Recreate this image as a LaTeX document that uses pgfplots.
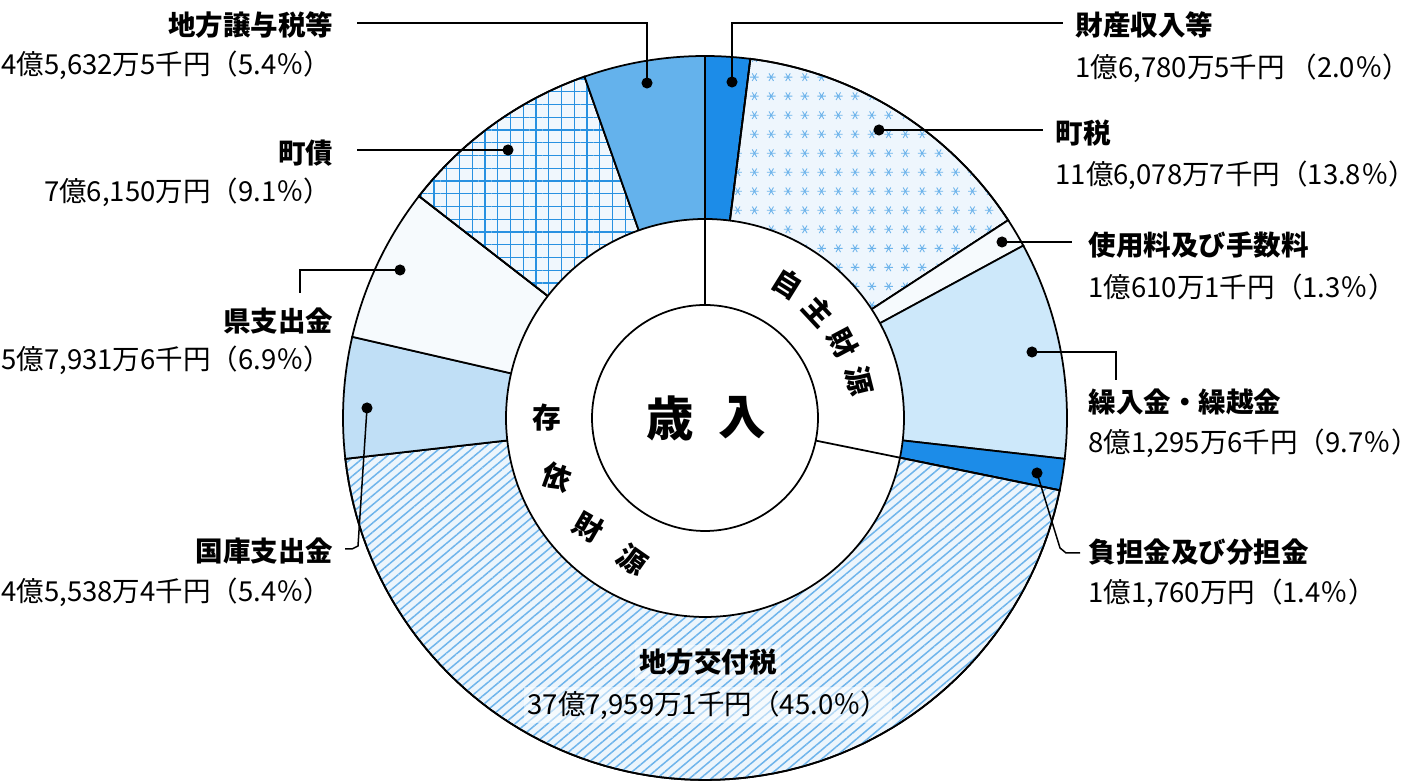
\documentclass[border=0pt]{standalone}
\usepackage{fontspec}
\setmainfont{Noto Sans CJK JP}
\usepackage{pgfplots}
\pgfplotsset{compat=1.18}
\usetikzlibrary{patterns.meta}

\definecolor{solidblue}{RGB}{28,140,232}
\definecolor{midblue}{RGB}{100,178,236}
\definecolor{paleblue}{RGB}{205,232,250}
\definecolor{kokko}{RGB}{192,223,246}
\definecolor{nearwhite}{RGB}{246,250,253}
\definecolor{dotbg}{RGB}{238,246,253}
\definecolor{dotfg}{RGB}{110,180,235}
\definecolor{gridbg}{RGB}{240,247,253}
\definecolor{gridfg}{RGB}{40,145,225}
\definecolor{hatchbg}{RGB}{236,245,252}
\definecolor{hatchfg}{RGB}{110,180,235}

\tikzdeclarepattern{
  name=asterisks,
  type=uncolored,
  bounding box={(-2pt,-2pt) and (2pt,2pt)},
  tile size={(6.7pt,7.6pt)},
  code={
    \draw[line width=0.35pt] (-1.7pt,0) -- (1.7pt,0)
      (-0.9pt,-1.5pt) -- (0.9pt,1.5pt)
      (-0.9pt,1.5pt) -- (0.9pt,-1.5pt);
  }
}

% slice: style, start share (%), share (%); centre (705,418), radius 362 px
\newcommand{\slice}[3]{%
  \addplot[draw=black, line width=0.7pt, #1,
    domain=90-3.6*(#2+#3):90-3.6*(#2), samples=90, variable=\t]
    ({705+362*cos(\t)}, {418-362*sin(\t)}) -- (axis cs:705,418) -- cycle;
}

\tikzset{
  lab/.style={font=\fontsize{11}{13}\selectfont, inner sep=0pt},
  big/.style={font=\fontsize{11.5}{13}\selectfont\bfseries, inner sep=0pt},
}

\begin{document}
\begin{tikzpicture}
\begin{axis}[
  hide axis,
  scale only axis,
  width=20cm, height=10.927cm,
  xmin=0, xmax=1424, ymin=0, ymax=778,
  y dir=reverse,
  clip=false,
]
  \addplot[draw=none] coordinates {(0,0) (1424,778)};

  % outer ring, clockwise from 12 o'clock
  \slice{fill=solidblue}{0}{2.0}          % 財産収入等
  \slice{fill=dotbg, postaction={pattern=asterisks, pattern color=dotfg}}{2.0}{13.8} % 町税
  \slice{fill=nearwhite}{15.8}{1.3}       % 使用料及び手数料
  \slice{fill=paleblue}{17.1}{9.7}        % 繰入金・繰越金
  \slice{fill=solidblue}{26.8}{1.4}       % 負担金及び分担金
  \slice{fill=hatchbg, postaction={pattern={Lines[angle=40,distance=2.8pt,line width=0.6pt]}, pattern color=hatchfg}}{28.2}{45.0} % 地方交付税
  \slice{fill=kokko}{73.2}{5.4}           % 国庫支出金
  \slice{fill=nearwhite}{78.6}{6.9}       % 県支出金
  \slice{fill=gridbg, postaction={pattern={Hatch[angle=0,distance=5.1pt,line width=0.5pt]}, pattern color=gridfg}}{85.5}{9.1} % 町債
  \slice{fill=midblue}{94.6}{5.4}         % 地方譲与税等

  % inner white rings
  \addplot[fill=white, draw=black, line width=0.7pt, domain=0:360, samples=181, variable=\t]
    ({705+199*cos(\t)}, {418-199*sin(\t)}) -- cycle;
  \addplot[draw=black, line width=0.7pt, domain=0:360, samples=181, variable=\t]
    ({705+113*cos(\t)}, {418-113*sin(\t)});
  \addplot[black, line width=0.7pt] coordinates {(705,305) (705,219)};
  \addplot[black, line width=0.7pt] coordinates {(815.7,440.6) (900.0,457.7)};

  % leader lines
  \addplot[black, line width=0.6pt] coordinates {(732,82) (732,23) (1063,23)};
  \addplot[black, line width=0.6pt] coordinates {(879,130) (1043,130)};
  \addplot[black, line width=0.6pt] coordinates {(1002,242) (1072,242)};
  \addplot[black, line width=0.6pt] coordinates {(1032,352) (1116,352) (1116,380)};
  \addplot[black, line width=0.6pt] coordinates {(1037,473) (1060,548) (1066,553) (1080,553)};
  \addplot[black, line width=0.6pt] coordinates {(647,83) (647,23) (357,23)};
  \addplot[black, line width=0.6pt] coordinates {(508,150) (357,150)};
  \addplot[black, line width=0.6pt] coordinates {(400,270) (300,270) (300,293)};
  \addplot[black, line width=0.6pt] coordinates {(367,408) (358,546) (352,549) (345,549)};
  \addplot[only marks, mark=*, mark size=2pt, black] coordinates {
    (732,82) (879,130) (1002,242) (1032,352) (1037,473)
    (647,83) (508,150) (400,270) (367,408)};

  % right labels
  \node[lab, anchor=west] at (axis cs:1075,25) {\bfseries 財産収入等};
  \node[lab, anchor=west] at (axis cs:1075,68) {1億6,780万5千円\,（2.0％）};
  \node[lab, anchor=west] at (axis cs:1055,133) {\bfseries 町税};
  \node[lab, anchor=west] at (axis cs:1055,175) {11億6,078万7千円（13.8％）};
  \node[lab, anchor=west] at (axis cs:1088,245) {\bfseries 使用料及び手数料};
  \node[lab, anchor=west] at (axis cs:1088,287) {1億610万1千円（1.3％）};
  \node[lab, anchor=west] at (axis cs:1088,402) {\bfseries 繰入金・繰越金};
  \node[lab, anchor=west] at (axis cs:1088,443) {8億1,295万6千円（9.7％）};
  \node[lab, anchor=west] at (axis cs:1088,552) {\bfseries 負担金及び分担金};
  \node[lab, anchor=west] at (axis cs:1088,593) {1億1,760万円（1.4％）};

  % left labels
  \node[lab, anchor=east] at (axis cs:334,25) {\bfseries 地方譲与税等};
  \node[lab, anchor=east] at (axis cs:332,65) {4億5,632万5千円（5.4％）};
  \node[lab, anchor=east] at (axis cs:334,153) {\bfseries 町債};
  \node[lab, anchor=east] at (axis cs:332,192) {7億6,150万円（9.1％）};
  \node[lab, anchor=east] at (axis cs:334,321) {\bfseries 県支出金};
  \node[lab, anchor=east] at (axis cs:332,360) {5億7,931万6千円（6.9％）};
  \node[lab, anchor=east] at (axis cs:334,551) {\bfseries 国庫支出金};
  \node[lab, anchor=east] at (axis cs:332,592) {4億5,538万4千円（5.4％）};

  % inside the big slice
  \node[lab, fill=white, fill opacity=0.5, text opacity=1, inner sep=1.5pt] at (axis cs:708,662) {\bfseries 地方交付税};
  \node[lab, fill=white, fill opacity=0.5, text opacity=1, inner sep=1.5pt] at (axis cs:708,705) {37億7,959万1千円（45.0％）};

  % centre and ring texts
  \node[font=\fontsize{19}{20}\selectfont\bfseries] at (axis cs:670,418) {歳};
  \node[font=\fontsize{19}{20}\selectfont\bfseries] at (axis cs:742,418) {入};
  \node[big, rotate=-32] at (axis cs:788,284) {自};
  \node[big, rotate=-47] at (axis cs:819,311) {主};
  \node[big, rotate=-62] at (axis cs:843,343) {財};
  \node[big, rotate=-76] at (axis cs:859,381) {源};
  \node[big, rotate=0]   at (axis cs:547,418) {存};
  \node[big, rotate=-20] at (axis cs:557,477) {依};
  \node[big, rotate=-30] at (axis cs:588,527) {財};
  \node[big, rotate=-35] at (axis cs:632,560) {源};
\end{axis}
\end{tikzpicture}
\end{document}
